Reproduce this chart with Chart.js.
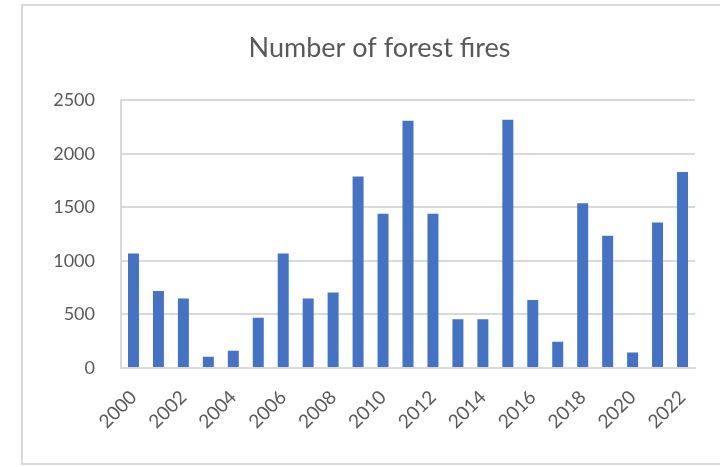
<!DOCTYPE html>
<html>
<head>
<meta charset="utf-8">
<script src="https://cdn.jsdelivr.net/npm/chart.js@4/dist/chart.umd.min.js"></script>
<style>
  html, body { margin: 0; padding: 0; background: #ffffff; }
  #wrap { width: 720px; height: 467px; position: relative; }
</style>
</head>
<body>
<div id="wrap"><canvas id="chart" width="720" height="467"></canvas></div>
<script>
// Forest fires per year
const years = ['2000','2001','2002','2003','2004','2005','2006','2007','2008','2009','2010','2011',
               '2012','2013','2014','2015','2016','2017','2018','2019','2020','2021','2022'];
const fires = [1070, 720, 650, 105, 160, 470, 1070, 650, 705, 1790, 1440, 2310,
               1440, 455, 455, 2320, 635, 245, 1540, 1235, 145, 1360, 1830];
const yTicks = [0, 500, 1000, 1500, 2000, 2500];

const FONT = 'Lato, "Open Sans", sans-serif';
const TEXT = '#595959';
const GRID = '#d9d9d9';

// Light frame around the chart, and a title box that starts right of the value labels
const framePlugin = {
  id: 'frame',
  afterLayout(chart) {
    if (chart.titleBlock) chart.titleBlock.left += 42;
  },
  beforeDraw(chart) {
    const ctx = chart.ctx;
    ctx.save();
    ctx.fillStyle = '#ffffff';
    ctx.fillRect(0, 0, chart.width, chart.height);
    ctx.strokeStyle = GRID;
    ctx.lineWidth = 2;
    ctx.strokeRect(22, 5, chart.width + 10, 459);
    ctx.restore();
  }
};

new Chart(document.getElementById('chart'), {
  type: 'bar',
  data: {
    labels: years,
    datasets: [{
      label: 'Number of forest fires',
      data: fires,
      backgroundColor: '#4472C4',
      borderWidth: 0,
      barPercentage: 0.44,
      categoryPercentage: 1.0
    }]
  },
  options: {
    responsive: false,
    animation: false,
    layout: { padding: { left: 22, right: 25, top: 5, bottom: 20 } },
    plugins: {
      legend: { display: false },
      tooltip: { enabled: false },
      title: {
        display: true,
        text: 'Number of forest fires',
        color: TEXT,
        font: { family: FONT, size: 27, weight: 'normal' },
        padding: { top: 27, bottom: 36 }
      }
    },
    scales: {
      x: {
        grid: { display: false, drawTicks: false },
        border: { display: true, color: GRID, width: 2 },
        ticks: {
          autoSkip: false,
          maxRotation: 45,
          minRotation: 45,
          padding: 18,
          color: TEXT,
          font: { family: FONT, size: 19 },
          callback: function (value, index) {
            return index % 2 === 0 ? years[index] : '';
          }
        },
        afterFit(scale) { scale.height = 79; }
      },
      y: {
        min: 0,
        max: 2500,
        grid: { color: GRID, lineWidth: 2, drawTicks: false },
        border: { display: true, color: GRID, width: 2 },
        afterBuildTicks(scale) { scale.ticks = yTicks.map(v => ({ value: v })); },
        ticks: {
          padding: 26,
          color: TEXT,
          font: { family: FONT, size: 18 },
          callback: function (value) { return String(value); }
        },
        afterFit(scale) { scale.width = 99; }
      }
    }
  },
  plugins: [framePlugin]
});
</script>
</body>
</html>
